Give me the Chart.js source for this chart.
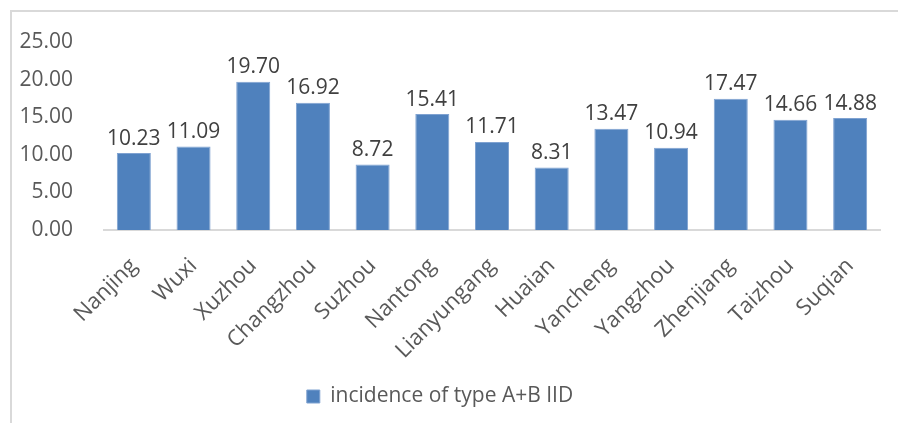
<!DOCTYPE html>
<html>
<head>
<meta charset="utf-8">
<script src="https://cdn.jsdelivr.net/npm/chart.js@4.4.0/dist/chart.umd.min.js"></script>
<style>
  html, body { margin: 0; padding: 0; background: #fff; }
</style>
</head>
<body>
<canvas id="myChart" width="898" height="423"></canvas>
<script>
var cities = ['Nanjing', 'Wuxi', 'Xuzhou', 'Changzhou', 'Suzhou', 'Nantong', 'Lianyungang',
  'Huaian', 'Yancheng', 'Yangzhou', 'Zhenjiang', 'Taizhou', 'Suqian']
var incidence = [10.23, 11.09, 19.70, 16.92, 8.72, 15.41, 11.71, 8.31, 13.47, 10.94, 17.47, 14.66, 14.88]
var seriesName = 'incidence of type A+B IID'

var fontFam = '"Open Sans", sans-serif'

// frame + white background
const framePlugin = {
  id: 'frame',
  beforeDraw(chart) {
    const ctx = chart.ctx
    ctx.save()
    ctx.fillStyle = '#fff'
    ctx.fillRect(0, 0, chart.width, chart.height)
    ctx.strokeStyle = '#d9d9d9'
    ctx.lineWidth = 2
    ctx.beginPath()
    ctx.moveTo(11, chart.height)
    ctx.lineTo(11, 11)
    ctx.lineTo(chart.width, 11)
    ctx.stroke()
    ctx.restore()
  }
}

// value labels above bars
const valuePlugin = {
  id: 'values',
  afterDatasetsDraw(chart) {
    const ctx = chart.ctx
    const meta = chart.getDatasetMeta(0)
    ctx.save()
    ctx.fillStyle = '#404040'
    ctx.font = '21px ' + fontFam
    ctx.textAlign = 'center'
    ctx.textBaseline = 'bottom'
    meta.data.forEach((bar, i) => {
      ctx.fillText(incidence[i].toFixed(2), bar.x, bar.y - 4)
    })
    ctx.restore()
  }
}

const data = {
  labels: cities,
  datasets: [{
    label: seriesName,
    data: incidence,
    backgroundColor: '#4f81bd',
    borderColor: '#7fa2d1',
    borderWidth: 1,
    categoryPercentage: 1,
    barPercentage: 0.57
  }]
}

const config = {
  type: 'bar',
  data: data,
  options: {
    responsive: false,
    animation: false,
    layout: { padding: { left: 0, right: 18, top: 42, bottom: 6 } },
    plugins: {
      legend: {
        position: 'bottom',
        labels: {
          color: '#595959',
          font: { family: fontFam, size: 21 },
          boxWidth: 13,
          boxHeight: 13,
          padding: 10
        }
      },
      tooltip: { enabled: false }
    },
    scales: {
      y: {
        min: 0,
        max: 25,
        ticks: {
          stepSize: 5,
          color: '#595959',
          font: { family: fontFam, size: 21 },
          padding: 23,
          callback: v => v.toFixed(2)
        },
        grid: { display: false },
        border: { display: false },
        afterFit(scale) { scale.width = 104 }
      },
      x: {
        ticks: {
          color: '#595959',
          font: { family: fontFam, size: 22 },
          minRotation: 45,
          maxRotation: 45,
          padding: 15
        },
        grid: { display: false },
        border: { display: true, color: '#d9d9d9', width: 2 },
        afterFit(scale) { scale.height = 146 }
      }
    }
  },
  plugins: [framePlugin, valuePlugin]
}

const myChart = new Chart(document.getElementById('myChart'), config)
</script>
</body>
</html>
